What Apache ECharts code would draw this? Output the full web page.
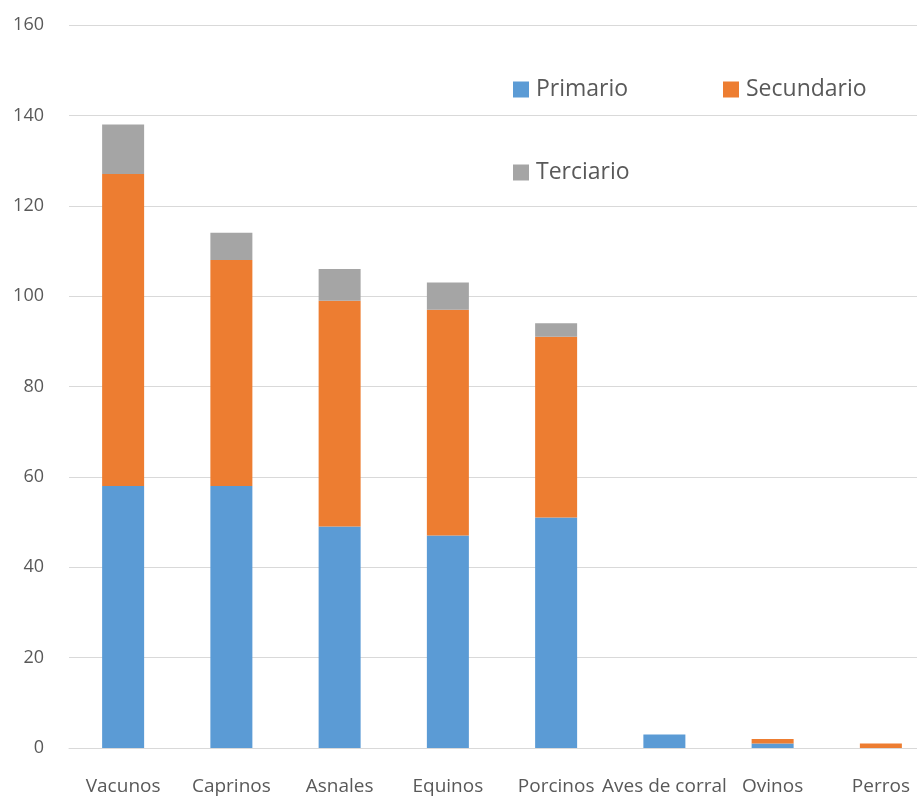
<!DOCTYPE html>
<html>
<head>
<meta charset="utf-8">
<script src="https://cdn.jsdelivr.net/npm/echarts@6/dist/echarts.min.js"></script>
<style>
  html, body { margin: 0; padding: 0; background: #fff; overflow: hidden; }
  /* the original picture is cut off on the right, so the chart is a bit wider than the window */
  #chart { width: 935px; height: 796px; }
</style>
</head>
<body>
<div id="chart"></div>
<script>
  const categories = ['Vacunos', 'Caprinos', 'Asnales', 'Equinos', 'Porcinos', 'Aves de corral', 'Ovinos', 'Perros'];
  const primario = [58, 58, 49, 47, 51, 3, 1, 0];
  const secundario = [69, 50, 50, 50, 40, 0, 1, 1];
  const terciario = [11, 6, 7, 6, 3, 0, 0, 0];

  const font = "'Open Sans', 'Noto Sans', sans-serif";
  const myChart = echarts.init(document.getElementById('chart'));

  function legendAt(name, left, top) {
    return {
      data: [name],
      left: left,
      top: top,
      itemWidth: 16,
      itemHeight: 16,
      icon: 'rect',
      textStyle: { fontFamily: font, fontSize: 23, color: '#595959', padding: [0, 0, 0, 2] }
    };
  }

  const option = {
    animation: false,
    legend: [
      legendAt('Primario', 508, 73),
      legendAt('Secundario', 718, 73),
      legendAt('Terciario', 508, 156)
    ],
    grid: {
      left: 69,
      top: 25,
      right: 0,
      bottom: 48,
      containLabel: false
    },
    xAxis: {
      type: 'category',
      data: categories,
      axisTick: { show: false },
      axisLine: { lineStyle: { color: '#D9D9D9', width: 1 } },
      axisLabel: {
        fontFamily: font,
        fontSize: 19,
        color: '#595959',
        margin: 29,
        interval: 0
      }
    },
    yAxis: {
      type: 'value',
      min: 0,
      max: 160,
      interval: 20,
      axisLine: { show: false },
      axisTick: { show: false },
      splitLine: { lineStyle: { color: '#D9D9D9', width: 1 } },
      axisLabel: {
        fontFamily: font,
        fontSize: 18,
        color: '#595959',
        margin: 25
      }
    },
    series: [
      {
        name: 'Primario',
        type: 'bar',
        stack: 'total',
        barWidth: 42,
        itemStyle: { color: '#5B9BD5' },
        data: primario
      },
      {
        name: 'Secundario',
        type: 'bar',
        stack: 'total',
        barWidth: 42,
        itemStyle: { color: '#ED7D31' },
        data: secundario
      },
      {
        name: 'Terciario',
        type: 'bar',
        stack: 'total',
        barWidth: 42,
        itemStyle: { color: '#A5A5A5' },
        data: terciario
      }
    ]
  };

  myChart.setOption(option);
</script>
</body>
</html>
